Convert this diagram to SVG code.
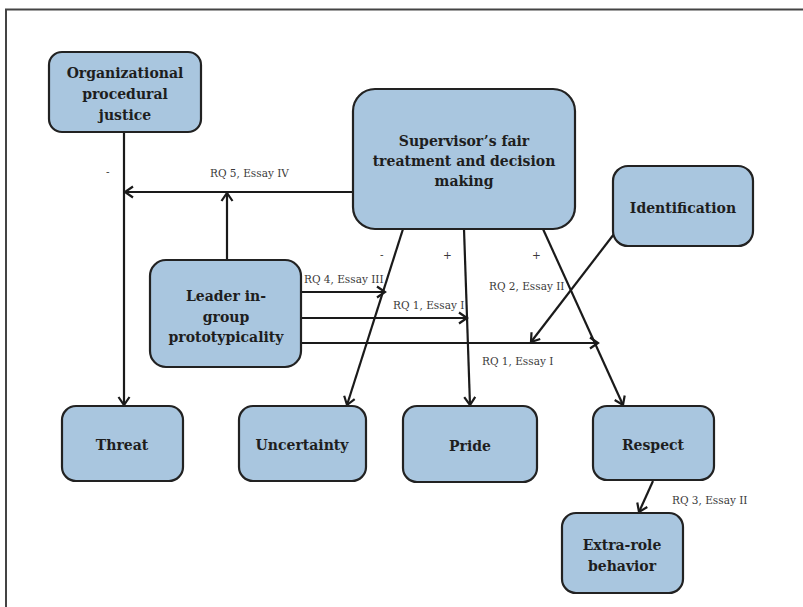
<svg xmlns="http://www.w3.org/2000/svg" width="803" height="607" viewBox="0 0 803 607">
<defs>
<style>
.node rect{fill:#a9c6df;stroke:#222;stroke-width:2.2}
.node text{font-family:"DejaVu Serif",Georgia,serif;font-weight:bold;font-size:14px;fill:#1e1e1e;text-anchor:middle}
.lbl{font-family:"DejaVu Serif",Georgia,serif;font-size:10.5px;fill:#3a3a3a}
#connectors line{stroke:#1a1a1a;stroke-width:2.2;fill:none}
.arr{marker-end:url(#arrow)}
</style>
<marker id="arrow" markerWidth="14" markerHeight="14" refX="11" refY="7" orient="auto" markerUnits="userSpaceOnUse">
<path d="M3,1.5 L11,7 L3,12.5" fill="none" stroke="#1a1a1a" stroke-width="2.2"/>
</marker>
</defs>
<rect width="803" height="607" fill="#fff"/>
<path d="M6,607 V9.5 H803" fill="none" stroke="#444" stroke-width="2"/>

<g id="connectors">
<line class="arr" x1="124" y1="132" x2="124" y2="405"/>
<line class="arr" x1="353" y1="192" x2="125" y2="192"/>
<line class="arr" x1="227" y1="260" x2="227" y2="193"/>
<line class="arr" x1="403" y1="229" x2="347" y2="405"/>
<line class="arr" x1="464" y1="229" x2="470" y2="405"/>
<line class="arr" x1="543" y1="229" x2="623" y2="405"/>
<line class="arr" x1="614" y1="234" x2="531" y2="342"/>
<line class="arr" x1="301" y1="292" x2="385" y2="292"/>
<line class="arr" x1="301" y1="318" x2="467" y2="318"/>
<line class="arr" x1="301" y1="343" x2="598" y2="343"/>
<line class="arr" x1="653" y1="481" x2="639" y2="512"/>
<text class="lbl" x="106" y="176">-</text>
<text class="lbl" x="210" y="177">RQ 5, Essay IV</text>
<text class="lbl" x="380" y="259">-</text>
<text class="lbl" x="443" y="259">+</text>
<text class="lbl" x="532" y="259">+</text>
<text class="lbl" x="304" y="283">RQ 4, Essay III</text>
<text class="lbl" x="393" y="309">RQ 1, Essay I</text>
<text class="lbl" x="489" y="290">RQ 2, Essay II</text>
<text class="lbl" x="482" y="365">RQ 1, Essay I</text>
<text class="lbl" x="672" y="504">RQ 3, Essay II</text>
</g>

<g id="org-justice" class="node">
<rect x="49" y="52" width="152" height="80" rx="13"/>
<text x="125" y="78">Organizational</text>
<text x="125" y="99">procedural</text>
<text x="125" y="120">justice</text>
</g>
<g id="supervisor" class="node">
<rect x="353" y="89" width="222" height="140" rx="22"/>
<text x="464" y="146">Supervisor’s fair</text>
<text x="464" y="166">treatment and decision</text>
<text x="464" y="186">making</text>
</g>
<g id="identification" class="node">
<rect x="613" y="166" width="140" height="80" rx="15"/>
<text x="683" y="213">Identification</text>
</g>
<g id="leader" class="node">
<rect x="150" y="260" width="151" height="107" rx="16"/>
<text x="226" y="301">Leader in-</text>
<text x="226" y="322">group</text>
<text x="226" y="342">prototypicality</text>
</g>
<g id="threat" class="node">
<rect x="62" y="406" width="121" height="75" rx="14"/>
<text x="122" y="450">Threat</text>
</g>
<g id="uncertainty" class="node">
<rect x="239" y="406" width="127" height="75" rx="14"/>
<text x="302" y="450">Uncertainty</text>
</g>
<g id="pride" class="node">
<rect x="403" y="406" width="134" height="76" rx="14"/>
<text x="470" y="451">Pride</text>
</g>
<g id="respect" class="node">
<rect x="593" y="406" width="121" height="74" rx="14"/>
<text x="653" y="450">Respect</text>
</g>
<g id="extra-role" class="node">
<rect x="562" y="513" width="121" height="80" rx="14"/>
<text x="622" y="550">Extra-role</text>
<text x="622" y="571">behavior</text>
</g>
</svg>
